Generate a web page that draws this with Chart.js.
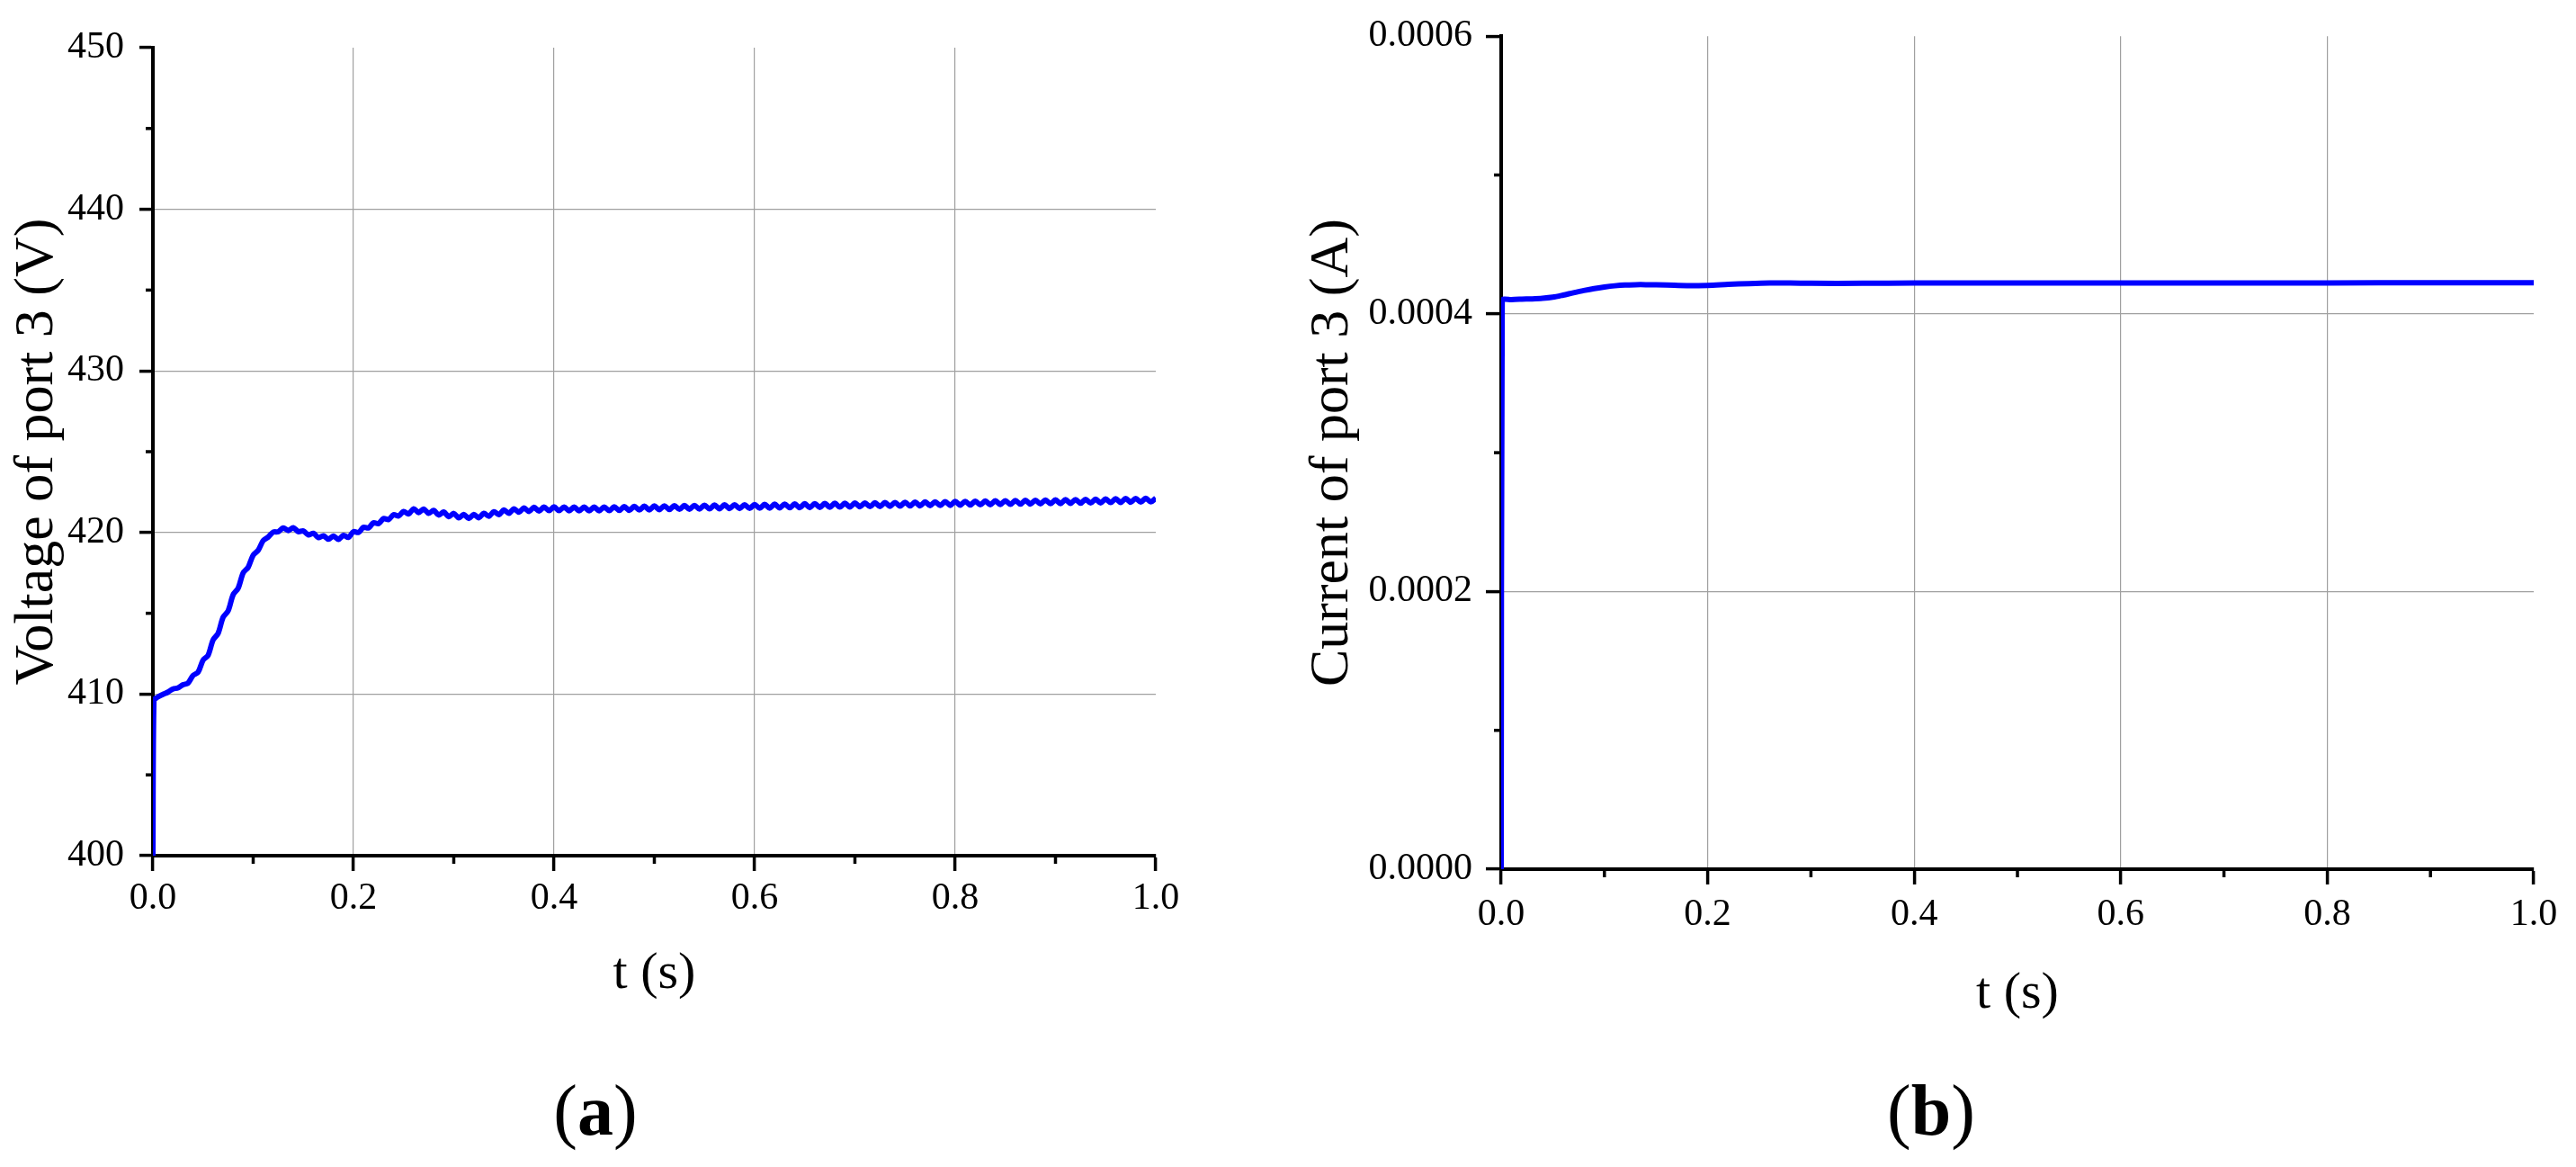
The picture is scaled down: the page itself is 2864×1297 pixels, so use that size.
<!DOCTYPE html>
<html>
<head>
<meta charset="utf-8">
<script src="https://cdn.jsdelivr.net/npm/chart.js@4.4.1/dist/chart.umd.min.js"></script>
<style>
    body { margin: 0; background: #ffffff; width: 2864px; height: 1297px; position: relative; overflow: hidden; }
    .panel { position: absolute; top: 0; }
    .panel-label {
        position: absolute;
        font-family: 'Liberation Serif', 'Times New Roman', serif;
        font-size: 80px;
        line-height: 1;
        color: #000;
        transform: translate(-50%, -50%);
        white-space: nowrap;
    }
</style>
</head>
<body>
<div class="panel" style="left:0px;"><canvas id="voltageChart" width="1330" height="1160"></canvas></div>
<div class="panel" style="left:1440px;"><canvas id="currentChart" width="1424" height="1160"></canvas></div>
<div class="panel-label" style="left:662px; top:1234px;">(<b>a</b>)</div>
<div class="panel-label" style="left:2147px; top:1234px;">(<b>b</b>)</div>

<script>
/* ========================================
   Port 3 voltage / current step response
   ======================================== */

// (a) voltage of port 3, sampled every 5 ms (plus the initial jump)
const voltageTime = [
    0, 0.001,
    0.005, 0.010, 0.015, 0.020, 0.025, 0.030, 0.035, 0.040, 0.045, 0.050,
    0.055, 0.060, 0.065, 0.070, 0.075, 0.080, 0.085, 0.090, 0.095, 0.100,
    0.105, 0.110, 0.115, 0.120, 0.125, 0.130, 0.135, 0.140, 0.145, 0.150,
    0.155, 0.160, 0.165, 0.170, 0.175, 0.180, 0.185, 0.190, 0.195, 0.200,
    0.205, 0.210, 0.215, 0.220, 0.225, 0.230, 0.235, 0.240, 0.245, 0.250,
    0.255, 0.260, 0.265, 0.270, 0.275, 0.280, 0.285, 0.290, 0.295, 0.300,
    0.305, 0.310, 0.315, 0.320, 0.325, 0.330, 0.335, 0.340, 0.345, 0.350,
    0.355, 0.360, 0.365, 0.370, 0.375, 0.380, 0.385, 0.390, 0.395, 0.400,
    0.405, 0.410, 0.415, 0.420, 0.425, 0.430, 0.435, 0.440, 0.445, 0.450,
    0.455, 0.460, 0.465, 0.470, 0.475, 0.480, 0.485, 0.490, 0.495, 0.500,
    0.505, 0.510, 0.515, 0.520, 0.525, 0.530, 0.535, 0.540, 0.545, 0.550,
    0.555, 0.560, 0.565, 0.570, 0.575, 0.580, 0.585, 0.590, 0.595, 0.600,
    0.605, 0.610, 0.615, 0.620, 0.625, 0.630, 0.635, 0.640, 0.645, 0.650,
    0.655, 0.660, 0.665, 0.670, 0.675, 0.680, 0.685, 0.690, 0.695, 0.700,
    0.705, 0.710, 0.715, 0.720, 0.725, 0.730, 0.735, 0.740, 0.745, 0.750,
    0.755, 0.760, 0.765, 0.770, 0.775, 0.780, 0.785, 0.790, 0.795, 0.800,
    0.805, 0.810, 0.815, 0.820, 0.825, 0.830, 0.835, 0.840, 0.845, 0.850,
    0.855, 0.860, 0.865, 0.870, 0.875, 0.880, 0.885, 0.890, 0.895, 0.900,
    0.905, 0.910, 0.915, 0.920, 0.925, 0.930, 0.935, 0.940, 0.945, 0.950,
    0.955, 0.960, 0.965, 0.970, 0.975, 0.980, 0.985, 0.990, 0.995, 1.000
];
const voltageValues = [
    400, 409.6,
    409.82, 409.98, 410.12, 410.32, 410.38, 410.58, 410.68, 411.15, 411.35, 412.10,
    412.40, 413.35, 413.75, 414.75, 415.15, 416.15, 416.55, 417.50, 417.85, 418.60,
    418.90, 419.50, 419.72, 420.02, 420.05, 420.28, 420.12, 420.30, 420.05, 420.10,
    419.85, 419.95, 419.68, 419.80, 419.58, 419.78, 419.57, 419.82, 419.70, 420.05,
    420.00, 420.32, 420.28, 420.60, 420.55, 420.86, 420.80, 421.10, 421.02, 421.30,
    421.15, 421.47, 421.23, 421.45, 421.18, 421.37, 421.08, 421.27, 420.98, 421.18,
    420.91, 421.12, 420.87, 421.12, 420.91, 421.19, 421.00, 421.29, 421.10, 421.39,
    421.19, 421.46, 421.25, 421.52, 421.30, 421.56, 421.33, 421.58, 421.35, 421.59,
    421.35, 421.58, 421.34, 421.57, 421.34, 421.57, 421.34, 421.57, 421.34, 421.58,
    421.35, 421.59, 421.36, 421.60, 421.37, 421.62, 421.39, 421.63, 421.40, 421.64,
    421.41, 421.65, 421.42, 421.66, 421.43, 421.67, 421.44, 421.68, 421.45, 421.69,
    421.46, 421.70, 421.47, 421.71, 421.48, 421.72, 421.48, 421.72, 421.49, 421.73,
    421.50, 421.74, 421.51, 421.75, 421.52, 421.76, 421.53, 421.77, 421.53, 421.78,
    421.54, 421.79, 421.55, 421.80, 421.56, 421.81, 421.57, 421.81, 421.58, 421.82,
    421.59, 421.83, 421.60, 421.84, 421.61, 421.85, 421.62, 421.86, 421.63, 421.87,
    421.64, 421.88, 421.65, 421.89, 421.66, 421.90, 421.67, 421.91, 421.68, 421.92,
    421.69, 421.93, 421.70, 421.94, 421.71, 421.95, 421.72, 421.96, 421.73, 421.97,
    421.74, 421.98, 421.75, 421.99, 421.76, 422.00, 421.77, 422.01, 421.78, 422.02,
    421.79, 422.03, 421.80, 422.04, 421.81, 422.05, 421.82, 422.06, 421.83, 422.07,
    421.85, 422.09, 421.86, 422.10, 421.87, 422.11, 421.88, 422.12, 421.89, 422.13
];

// (b) current of port 3
const currentTime = [
    0, 0.001, 0.01, 0.02, 0.03, 0.04, 0.05, 0.06, 0.07, 0.08, 0.09, 0.10,
    0.11, 0.12, 0.13, 0.14, 0.16, 0.18, 0.20, 0.22, 0.24, 0.26, 0.28, 0.30,
    0.35, 0.40, 0.45, 0.50, 0.60, 0.70, 0.80, 0.90, 1.00
];
const currentValues = [
    0, 0.0004095, 0.0004103, 0.0004106, 0.0004108, 0.0004112, 0.0004120, 0.0004135,
    0.0004152, 0.0004168, 0.0004182, 0.0004193, 0.0004202, 0.0004208, 0.0004210,
    0.0004210, 0.0004207, 0.0004203, 0.0004205, 0.0004212, 0.0004218, 0.0004222,
    0.0004222, 0.0004220, 0.0004220, 0.0004222, 0.0004222, 0.0004222, 0.0004222,
    0.0004223, 0.0004223, 0.0004224, 0.0004224
];

// Axis ticks
const timeTicks = [0, 0.2, 0.4, 0.6, 0.8, 1.0];
const timeMinorTicks = [0.1, 0.3, 0.5, 0.7, 0.9];
const voltageTicks = [400, 410, 420, 430, 440, 450];
const voltageMinorTicks = [405, 415, 425, 435, 445];
const currentTicks = [0, 0.0002, 0.0004, 0.0006];
const currentMinorTicks = [0.0001, 0.0003, 0.0005];

const SERIF = "'Liberation Serif', 'Times New Roman', serif";
const LINE_BLUE = '#0000ff';
const GRID_GREY = '#a0a0a0';

// Draws the short unlabelled minor ticks on both axes
const minorTickPlugin = {
    id: 'minorTicks',
    afterDraw(chart, args, opts) {
        const ctx = chart.ctx;
        const xScale = chart.scales.x;
        const yScale = chart.scales.y;
        ctx.save();
        ctx.strokeStyle = '#000';
        ctx.lineWidth = 3.5;
        opts.xMinor.forEach(v => {
            const px = xScale.getPixelForValue(v);
            ctx.beginPath();
            ctx.moveTo(px, xScale.top);
            ctx.lineTo(px, xScale.top + opts.xLen);
            ctx.stroke();
        });
        opts.yMinor.forEach(v => {
            const py = yScale.getPixelForValue(v);
            ctx.beginPath();
            ctx.moveTo(yScale.right, py);
            ctx.lineTo(yScale.right - opts.yLen, py);
            ctx.stroke();
        });
        ctx.restore();
    }
};

function gridColorFor(lo, hi) {
    return ctx => {
        const v = ctx.tick ? ctx.tick.value : null;
        if (v === null) return GRID_GREY;
        const eps = (hi - lo) * 1e-6;
        if (Math.abs(v - lo) < eps || Math.abs(v - hi) < eps) return 'rgba(0,0,0,0)';
        return GRID_GREY;
    };
}

function buildChart(canvasId, cfg) {
    const ctx = document.getElementById(canvasId).getContext('2d');
    return new Chart(ctx, {
        type: 'line',
        data: {
            datasets: [{
                data: cfg.times.map((t, i) => ({ x: t, y: cfg.values[i] })),
                borderColor: LINE_BLUE,
                borderWidth: cfg.lineWidth,
                pointRadius: 0,
                fill: false,
                tension: cfg.tension
            }]
        },
        options: {
            responsive: false,
            animation: false,
            devicePixelRatio: 1,
            layout: { padding: cfg.padding },
            plugins: {
                legend: { display: false },
                tooltip: { enabled: false },
                minorTicks: {
                    xMinor: timeMinorTicks,
                    yMinor: cfg.yMinor,
                    xLen: 9,
                    yLen: 8
                }
            },
            scales: {
                x: {
                    type: 'linear',
                    min: 0,
                    max: 1,
                    afterBuildTicks: scale => {
                        scale.ticks = timeTicks.map(v => ({ value: v }));
                    },
                    afterFit: scale => { scale.height = cfg.xHeight; },
                    grid: {
                        color: gridColorFor(0, 1),
                        lineWidth: 1.2,
                        tickColor: '#000',
                        tickWidth: 3.5,
                        tickLength: 17
                    },
                    border: { color: '#000', width: 4 },
                    ticks: {
                        color: '#000',
                        padding: cfg.xTickPad,
                        font: { family: SERIF, size: 42 },
                        maxRotation: 0,
                        callback: v => v.toFixed(1)
                    },
                    title: {
                        display: true,
                        text: 't (s)',
                        color: '#000',
                        font: { family: SERIF, size: 58 },
                        padding: { top: 0, bottom: cfg.xTitlePad }
                    }
                },
                y: {
                    type: 'linear',
                    min: cfg.yMin,
                    max: cfg.yMax,
                    afterBuildTicks: scale => {
                        scale.ticks = cfg.yTicks.map(v => ({ value: v }));
                    },
                    afterFit: scale => { scale.width = cfg.yWidth; },
                    grid: {
                        color: gridColorFor(cfg.yMin, cfg.yMax),
                        lineWidth: 1.2,
                        tickColor: '#000',
                        tickWidth: 3.5,
                        tickLength: cfg.yTickLen
                    },
                    border: { color: '#000', width: 4 },
                    ticks: {
                        color: '#000',
                        padding: cfg.yTickPad,
                        font: { family: SERIF, size: 42 },
                        callback: v => v.toFixed(cfg.yDecimals)
                    },
                    title: {
                        display: true,
                        text: cfg.yTitle,
                        color: '#000',
                        font: { family: SERIF, size: 62 },
                        padding: { top: 5, bottom: 0 }
                    }
                }
            }
        },
        plugins: [minorTickPlugin]
    });
}

document.addEventListener('DOMContentLoaded', function() {
    buildChart('voltageChart', {
        times: voltageTime,
        values: voltageValues,
        lineWidth: 6,
        tension: 0.3,
        padding: { left: 0, right: 45, top: 53, bottom: 0 },
        xHeight: 209,
        xTickPad: 6,
        xTitlePad: 42,
        yMin: 400,
        yMax: 450,
        yTicks: voltageTicks,
        yMinor: voltageMinorTicks,
        yWidth: 170,
        yTickLen: 15,
        yTickPad: 17,
        yDecimals: 0,
        yTitle: 'Voltage of port 3 (V)'
    });

    buildChart('currentChart', {
        times: currentTime,
        values: currentValues,
        lineWidth: 6,
        tension: 0.3,
        padding: { left: 0, right: 47, top: 34, bottom: 0 },
        xHeight: 194,
        xTickPad: 9,
        xTitlePad: 20,
        yMin: 0,
        yMax: 0.0006,
        yTicks: currentTicks,
        yMinor: currentMinorTicks,
        yWidth: 229,
        yTickLen: 17,
        yTickPad: 15,
        yDecimals: 4,
        yTitle: 'Current of port 3 (A)'
    });
});
</script>
</body>
</html>
